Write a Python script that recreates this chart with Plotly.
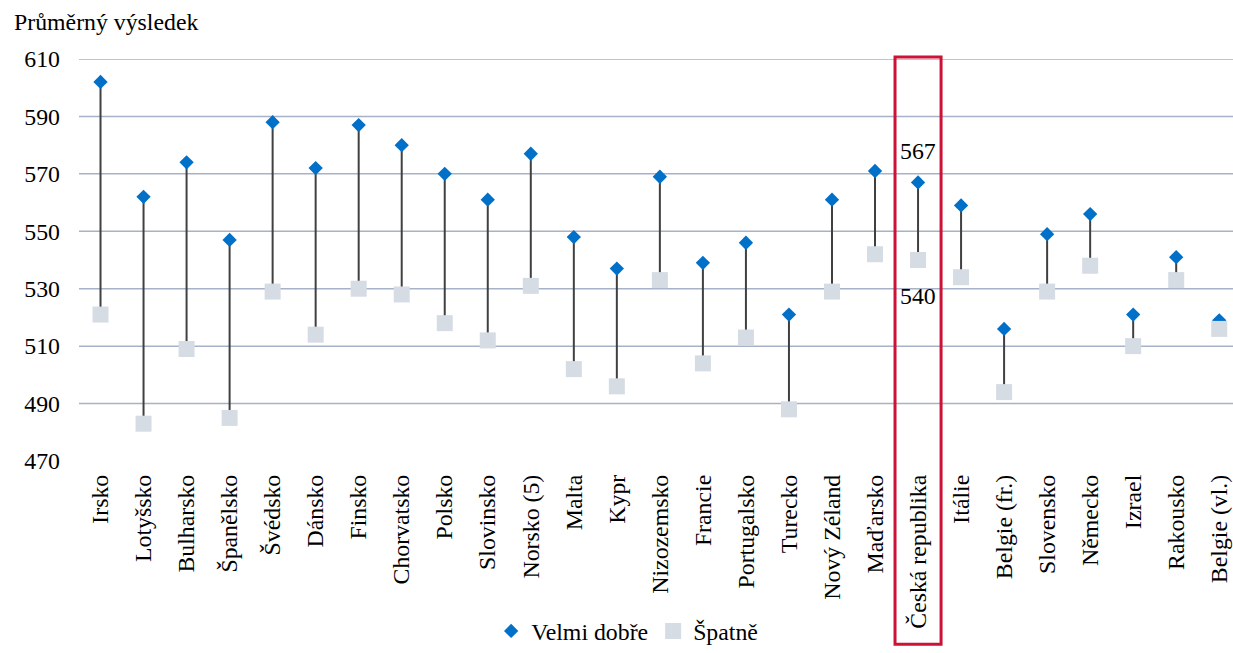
import plotly.graph_objects as go

# Average score by country: students rating themselves "very good" vs "poor"
countries = [
    "Irsko", "Lotyšsko", "Bulharsko", "Španělsko", "Švédsko", "Dánsko",
    "Finsko", "Chorvatsko", "Polsko", "Slovinsko", "Norsko (5)", "Malta",
    "Kypr", "Nizozemsko", "Francie", "Portugalsko", "Turecko", "Nový Zéland",
    "Maďarsko", "Česká republika", "Itálie", "Belgie (fr.)", "Slovensko",
    "Německo", "Izrael", "Rakousko", "Belgie (vl.)",
]
velmi_dobre = [602, 562, 574, 547, 588, 572, 587, 580, 570, 561, 577, 548,
               537, 569, 539, 546, 521, 561, 571, 567, 559, 516, 549, 556,
               521, 541, 519]
spatne = [521, 483, 509, 485, 529, 514, 530, 528, 518, 512, 531, 502,
          496, 533, 504, 513, 488, 529, 542, 540, 534, 494, 529, 538,
          510, 533, 516]

y_ticks = [470, 490, 510, 530, 550, 570, 590, 610]
grid_values = [490, 510, 530, 550, 570, 590, 610]
highlight = "Česká republika"

FONT = "Liberation Serif"
FS = 23.8

# connecting high-low lines
lx, ly = [], []
for c, hi, lo in zip(countries, velmi_dobre, spatne):
    lx += [c, c, None]
    ly += [hi, lo, None]

fig = go.Figure()
fig.add_trace(go.Scatter(
    x=lx, y=ly, mode="lines", line=dict(color="#404040", width=2),
    showlegend=False, hoverinfo="skip",
))
fig.add_trace(go.Scatter(
    x=countries, y=velmi_dobre, mode="markers", name="Velmi dobře",
    marker=dict(symbol="diamond", size=11, color="#0070C8",
                line=dict(width=0)),
))
fig.add_trace(go.Scatter(
    x=countries, y=spatne, mode="markers", name="Špatně",
    marker=dict(symbol="square", size=16, color="#D6DCE4",
                line=dict(width=0)),
))

shapes = []
for g in grid_values:
    shapes.append(dict(
        type="line", xref="paper", yref="y", x0=0, x1=1, y0=g, y1=g,
        line=dict(color="#A7B1C8", width=1.5), layer="below",
    ))
hi_idx = countries.index(highlight)
shapes.append(dict(
    type="rect", xref="x", yref="paper",
    x0=hi_idx - 0.535, x1=hi_idx + 0.535, y0=-0.456, y1=1.005,
    line=dict(color="#CC1236", width=3), fillcolor="rgba(0,0,0,0)",
))

annotations = [
    dict(text="Průměrný výsledek", xref="paper", yref="paper",
         x=-0.058, y=1.091, xanchor="left", yanchor="middle",
         showarrow=False, font=dict(size=FS, color="black", family=FONT)),
    dict(text=str(velmi_dobre[hi_idx]), x=highlight, y=velmi_dobre[hi_idx],
         xref="x", yref="y", showarrow=False, yshift=31,
         font=dict(size=FS, color="black", family=FONT)),
    dict(text=str(spatne[hi_idx]), x=highlight, y=spatne[hi_idx],
         xref="x", yref="y", showarrow=False, yshift=-36,
         font=dict(size=FS, color="black", family=FONT)),
]

fig.update_layout(
    width=1233, height=653,
    margin=dict(l=79, r=0, t=59, b=188),
    paper_bgcolor="white", plot_bgcolor="white",
    font=dict(family=FONT, size=FS, color="black"),
    shapes=shapes, annotations=annotations,
    legend=dict(orientation="h", x=0.475, xanchor="center",
                y=-0.424, yanchor="middle",
                font=dict(size=FS, family=FONT), itemwidth=30,
                bgcolor="rgba(0,0,0,0)"),
    xaxis=dict(
        type="category", categoryorder="array", categoryarray=countries,
        range=[-0.5, 26.32], showgrid=False, zeroline=False,
        showline=False, tickangle=-90, ticks="", ticklabelstandoff=8,
        tickfont=dict(size=FS, family=FONT, color="black"),
    ),
    yaxis=dict(
        range=[470, 610], tickvals=y_ticks, showgrid=False, zeroline=False,
        showline=False, ticks="", ticklabelstandoff=18,
        tickfont=dict(size=FS, family=FONT, color="black"),
    ),
)

fig.write_html("out.html")
